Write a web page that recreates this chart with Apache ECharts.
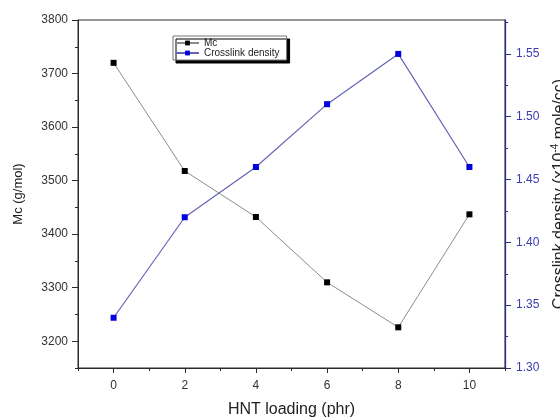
<!DOCTYPE html>
<html>
<head>
<meta charset="utf-8">
<script src="https://cdn.jsdelivr.net/npm/echarts@6/dist/echarts.min.js"></script>
<style>
  html, body { margin: 0; padding: 0; background: #fff; }
  #chart { width: 560px; height: 419px; }
</style>
</head>
<body>
<div id="chart"></div>
<script>
// HNT loading (phr)
const loading = [0, 2, 4, 6, 8, 10];
// Molecular weight between crosslinks, g/mol
const mcValues = [3720, 3518, 3432, 3310, 3226, 3437];
// Crosslink density, x10^-4 mole/cc
const crosslinkValues = [1.34, 1.42, 1.46, 1.51, 1.55, 1.46];

// Tick and label positions
const xLabels = [0, 2, 4, 6, 8, 10];
const xMinorTicks = [-1, 1, 3, 5, 7, 9, 11];
const mcLabels = [3200, 3300, 3400, 3500, 3600, 3700, 3800];
const mcMinorTicks = [3150, 3250, 3350, 3450, 3550, 3650, 3750];
const cdLabels = [1.30, 1.35, 1.40, 1.45, 1.50, 1.55];
const cdMinorTicks = [1.325, 1.375, 1.425, 1.475, 1.525, 1.575];

const FONT = 'Liberation Sans, Arial, sans-serif';
const INK = '#2a2a2a';
const NAVY = '#2e2e8c';
const BLUE_TXT = '#3b3bb0';

const chart = echarts.init(document.getElementById('chart'), null, { renderer: 'canvas' });

const xRange = { min: -1, max: 11 };
const mcRange = { min: 3150, max: 3800 };
const cdRange = { min: 1.30, max: 1.577 };

chart.setOption({
  backgroundColor: '#fff',
  animation: false,
  textStyle: { fontFamily: FONT },
  grid: {
    left: 78, right: 55, top: 20, bottom: 51,
    outerBoundsMode: 'none',
    containLabel: false,
    show: true, borderColor: INK, borderWidth: 1, backgroundColor: 'transparent'
  },
  legend: {
    orient: 'vertical',
    left: 173, top: 36,
    padding: [2, 7, 2, 2],
    itemGap: 0,
    itemWidth: 23, itemHeight: 6,
    backgroundColor: '#fff',
    borderColor: '#777', borderWidth: 1,
    shadowColor: '#000', shadowBlur: 0, shadowOffsetX: 3, shadowOffsetY: 3,
    textStyle: { fontSize: 10, color: '#222', lineHeight: 10, fontFamily: FONT },
    data: ['Mc', 'Crosslink density']
  },
  xAxis: [
    {
      type: 'value', ...xRange,
      name: 'HNT loading (phr)', nameLocation: 'middle', nameGap: 34,
      nameTextStyle: { fontSize: 16, color: '#222', fontFamily: FONT },
      axisLine: { show: true, onZero: false, lineStyle: { color: INK, width: 1 } },
      axisTick: { show: true, customValues: xLabels, length: 5, lineStyle: { color: INK } },
      axisLabel: { customValues: xLabels, fontSize: 12, color: '#333', margin: 12 },
      splitLine: { show: false }
    },
    {
      type: 'value', ...xRange, gridIndex: 0, position: 'bottom',
      axisLine: { show: false, onZero: false },
      axisTick: { show: true, customValues: xMinorTicks, length: 3, lineStyle: { color: INK } },
      axisLabel: { show: false },
      splitLine: { show: false }
    }
  ],
  yAxis: [
    {
      type: 'value', ...mcRange, position: 'left',
      name: 'Mc (g/mol)', nameLocation: 'middle', nameGap: 53,
      nameTextStyle: { fontSize: 13, color: '#222', fontFamily: FONT },
      axisLine: { show: true, onZero: false, lineStyle: { color: INK, width: 1 } },
      axisTick: { show: true, customValues: mcLabels, length: 6, lineStyle: { color: INK } },
      axisLabel: {
        customValues: mcLabels, fontSize: 12, color: '#333', margin: 10,
        formatter: v => String(v)
      },
      splitLine: { show: false }
    },
    {
      type: 'value', ...cdRange, position: 'right',
      name: 'Crosslink density (x10{sup|-4} mole/cc)', nameLocation: 'middle', nameGap: 40,
      nameTextStyle: {
        fontSize: 16, color: '#222', fontFamily: FONT,
        rich: { sup: { fontSize: 10, verticalAlign: 'top', color: '#222', fontFamily: FONT, padding: [0, 0, 8, 0] } }
      },
      axisLine: { show: true, onZero: false, lineStyle: { color: NAVY, width: 1.3 } },
      axisTick: { show: true, customValues: cdLabels, length: 6, lineStyle: { color: NAVY } },
      axisLabel: {
        customValues: cdLabels, fontSize: 12, color: BLUE_TXT, margin: 11,
        formatter: v => v.toFixed(2)
      },
      splitLine: { show: false }
    },
    {
      type: 'value', ...mcRange, position: 'left',
      axisLine: { show: false, onZero: false },
      axisTick: { show: true, customValues: mcMinorTicks, length: 3, lineStyle: { color: INK } },
      axisLabel: { show: false },
      splitLine: { show: false }
    },
    {
      type: 'value', ...cdRange, position: 'right',
      axisLine: { show: false, onZero: false },
      axisTick: { show: true, customValues: cdMinorTicks, length: 3, lineStyle: { color: NAVY } },
      axisLabel: { show: false },
      splitLine: { show: false }
    }
  ],
  series: [
    {
      name: 'Mc', type: 'line', xAxisIndex: 0, yAxisIndex: 0,
      data: loading.map((x, i) => [x, mcValues[i]]),
      symbol: 'rect', symbolSize: 6,
      lineStyle: { color: '#8c8c8c', width: 1 },
      itemStyle: { color: '#000' },
      z: 3
    },
    {
      name: 'Crosslink density', type: 'line', xAxisIndex: 0, yAxisIndex: 1,
      data: loading.map((x, i) => [x, crosslinkValues[i]]),
      symbol: 'rect', symbolSize: 6,
      lineStyle: { color: '#6464b4', width: 1.2 },
      itemStyle: { color: '#0000e0' },
      z: 4
    }
  ]
});
</script>
</body>
</html>
